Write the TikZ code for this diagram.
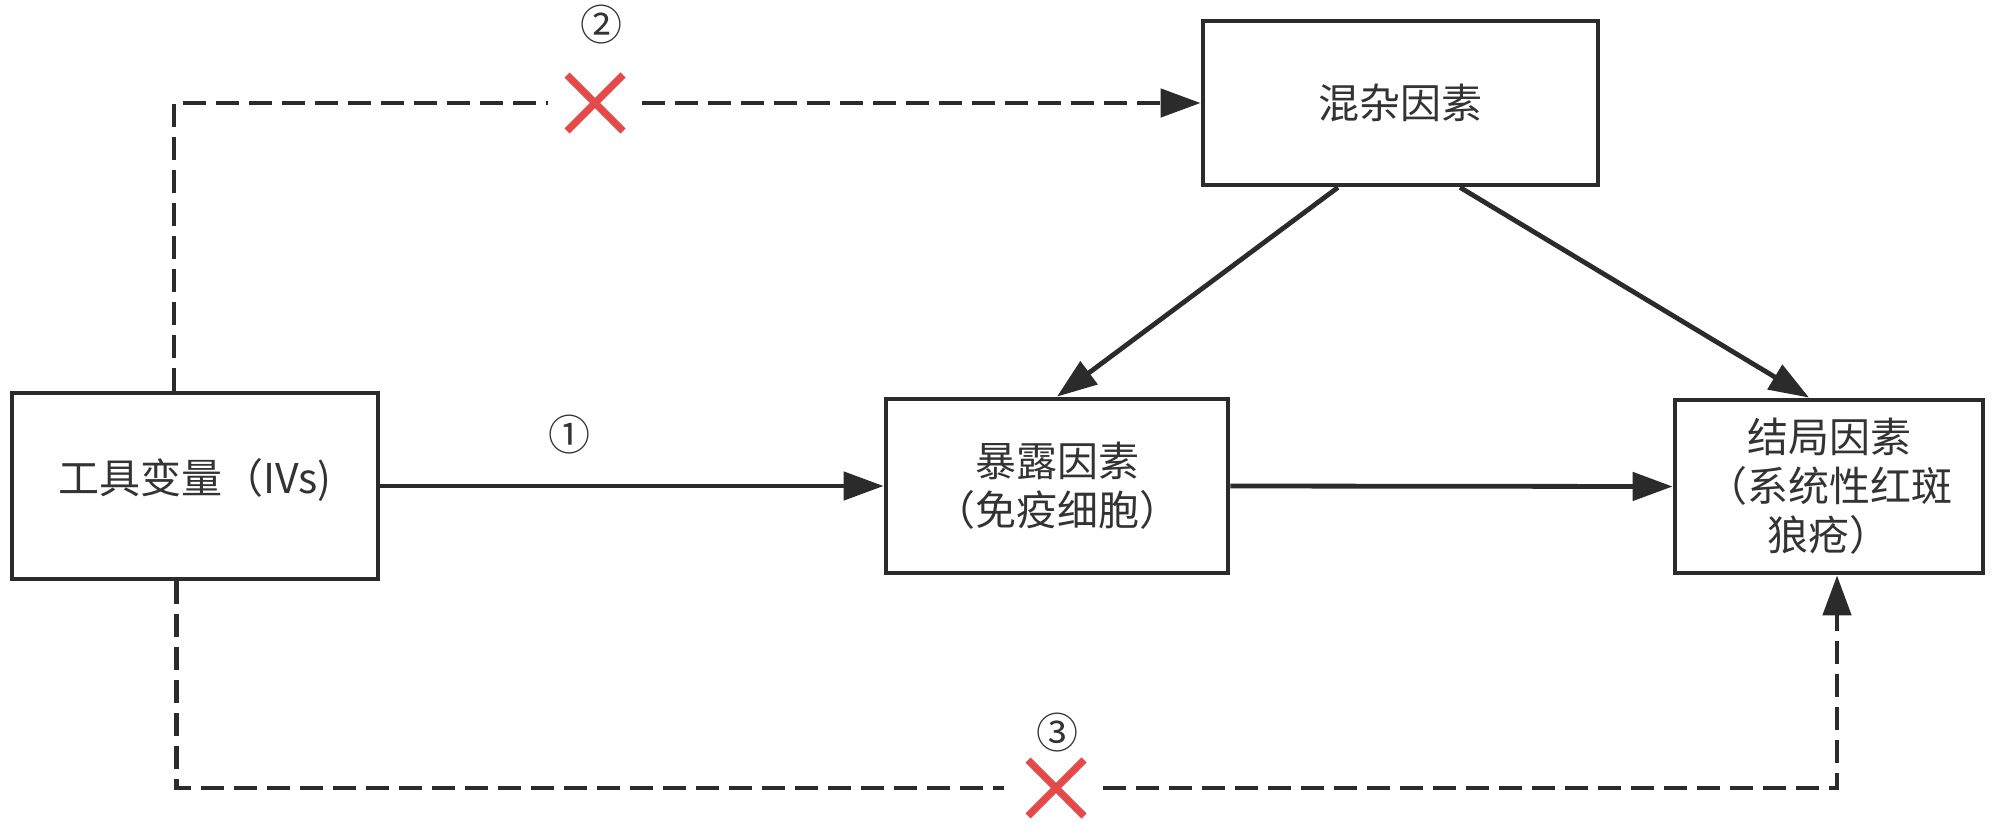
\documentclass[tikz,border=0pt]{standalone}
\usepackage{fontspec}
\setmainfont{Noto Sans CJK SC}
\usetikzlibrary{arrows.meta}
\definecolor{ln}{HTML}{2B2B2B}
\definecolor{txt}{HTML}{333333}
\definecolor{xred}{HTML}{E54A4A}
\begin{document}
\begin{tikzpicture}[x=0.5pt,y=-0.5pt,
  box/.style={draw=ln, line width=2.4pt, fill=white, align=center, text=txt,
    font=\fontsize{20.5pt}{24.5pt}\selectfont, inner sep=0pt},
  arr/.style={-{Triangle[length=20pt,width=14pt]}},
  conn/.style={draw=ln, line width=2.4pt},
  dsh/.style={conn, dash pattern=on 11.5pt off 5pt},
  crs/.style={draw=xred, line width=3.6pt},
  num/.style={text=txt, font=\fontsize{21pt}{24pt}\selectfont, inner sep=0pt}]
\useasboundingbox (0,0) rectangle (2000,830);
\fill[white] (0,0) rectangle (2000,830);
% boxes
\node[box, minimum width=183pt, minimum height=93pt] (iv) at (195,486) {\raisebox{10pt}{工具变量（IVs)}};
\node[box, minimum width=171pt, minimum height=87pt] (exp) at (1057,486) {暴露因素\\（免疫细胞）};
\node[box, minimum width=197.5pt, minimum height=82pt] (conf) at (1400.5,103) {混杂因素};
\node[box, minimum width=154pt, minimum height=86.5pt] (out) at (1829,486.5) {结局因素\\（系统性红斑\\狼疮）};
% numbers
\node[num] (n1) at (569.5,435) {①};
\node[num] (n2) at (601,25) {②};
\node[num] (n3) at (1057,733) {③};
% cross positions
\coordinate (x2) at (595,103);
\coordinate (x3) at (1056,788);
% solid arrows
\draw[conn, arr] (iv.east) -- (exp.west);
\draw[conn, arr] (exp.east) -- (out.west);
\draw[conn, arr] ([xshift=-31.25pt]conf.south) -- (exp.north);
\draw[conn, arr] ([xshift=29.75pt]conf.south) -- ([xshift=-10pt]out.north);
% dashed paths
\draw[dsh] ([xshift=-10.5pt]iv.north) |- ([xshift=-23.5pt]x2);
\draw[dsh, arr] ([xshift=23.5pt]x2) -- (conf.west);
\draw[dsh] ([xshift=-9.2pt]iv.south) |- ([xshift=-26pt]x3);
\draw[dsh, arr] ([xshift=23.5pt]x3) -| ([xshift=4pt]out.south);
% red crosses
\draw[crs] ([shift={(-28,-28)}]x2) -- ([shift={(28,28)}]x2);
\draw[crs] ([shift={(-28,28)}]x2) -- ([shift={(28,-28)}]x2);
\draw[crs] ([shift={(-28,-28)}]x3) -- ([shift={(28,28)}]x3);
\draw[crs] ([shift={(-28,28)}]x3) -- ([shift={(28,-28)}]x3);
\end{tikzpicture}
\end{document}
